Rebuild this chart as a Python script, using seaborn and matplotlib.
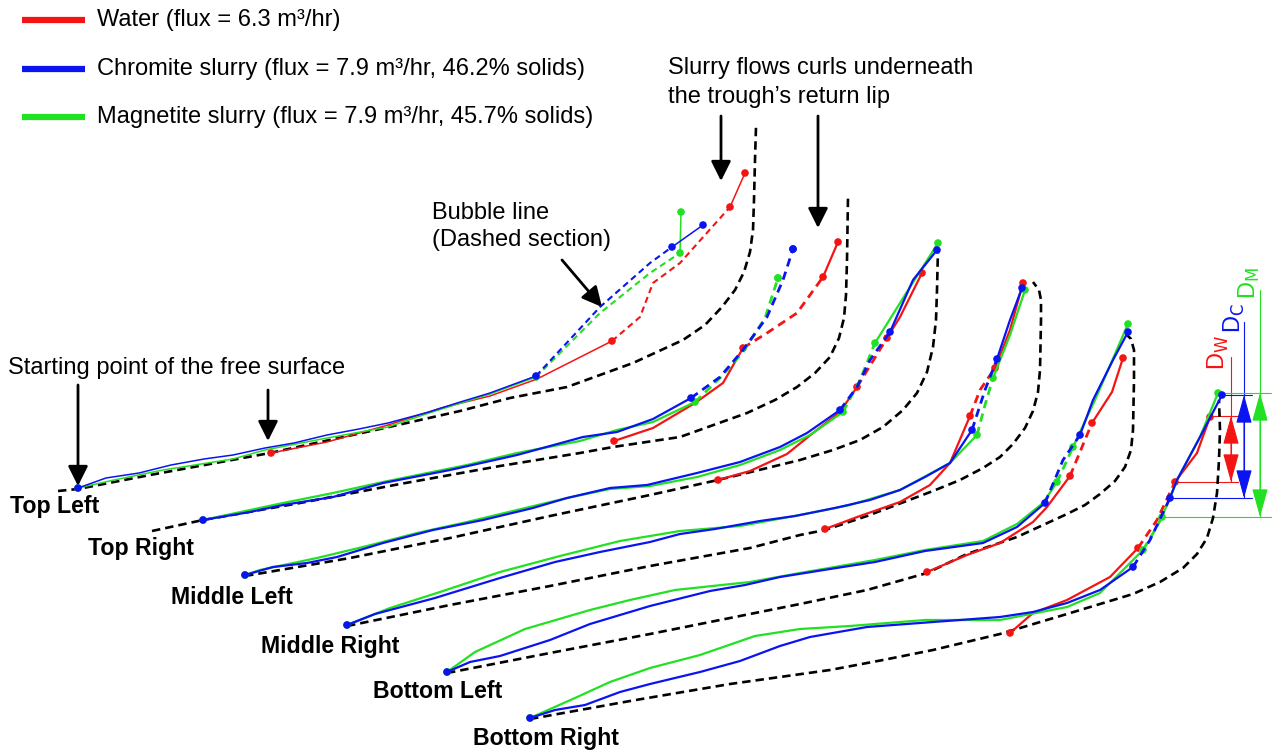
import matplotlib
matplotlib.use("Agg")
import matplotlib.pyplot as plt
import seaborn as sns

sns.set_theme(style="white")
plt.rcParams['font.family'] = ['Liberation Sans', 'DejaVu Sans']
plt.rcParams['text.color'] = 'black'

# ---------------- data (picture coordinates) ----------------
FLUIDS = ["Water", "Chromite slurry", "Magnetite slurry"]
LEGEND_LABELS = ["Water (flux = 6.3 m³/hr)",
                 "Chromite slurry (flux = 7.9 m³/hr, 46.2% solids)",
                 "Magnetite slurry (flux = 7.9 m³/hr, 45.7% solids)"]
COLORS = {"Water": "#f41414", "Chromite slurry": "#0a14f0", "Magnetite slurry": "#22e022", "Trough": "black"}

PROFILE_NAMES = ["Top Left", "Top Right", "Middle Left", "Middle Right", "Bottom Left", "Bottom Right"]

TL_TROUGH = [(58,491),(78,489),(150,475),(270,453),(380,429),(460,411),(510,398),(567,387),(633,363),(683,340),(705,325),(722,307),(735,290),(744,272),(750,252),(753,230),(754,200),(755,160),(756,127)]
TL_WATER = [(271,453),(327,442),(388,425),(441,408),(490,396),(537,379),(612,341),(640,317),(653,283),(680,263),(730,207),(745,173)]
TL_WATER_BUBBLE = (6, 10)
TL_CHROMITE = [(78,488),(106,478),(139,473),(171,465),(204,459),(233,455),(265,448),(294,443),(327,435),(359,429),(388,423),(429,412),(457,403),(490,393),(536,376),(600,307),(650,263),(672,247),(703,225)]
TL_CHROMITE_BUBBLE = (14, 17)
TL_MAGNETITE = [(78,488),(114,480),(163,470),(233,459),(265,450),(327,438),(388,427),(429,413),(490,394),(536,377),(600,313),(650,273),(680,253),(681,212)]
TL_MAGNETITE_BUBBLE = (9, 12)

TR_TROUGH = [(152,531),(203,520),(300,503),(400,484),(500,466),(580,453),(613,447),(680,437),(747,413),(775,400),(797,387),(815,373),(830,357),(839,338),(844,318),(846,295),(847,260),(848,197)]
TR_WATER = [(614,441),(653,428),(695,403),(723,383),(743,348),(767,333),(797,313),(823,277),(838,242)]
TR_WATER_BUBBLE = (4, 7)
TR_CHROMITE = [(203,520),(250,512),(283,505),(333,497),(383,483),(450,470),(517,455),(583,437),(617,432),(653,419),(691,398),(720,377),(743,350),(767,317),(783,280),(793,249)]
TR_CHROMITE_BUBBLE = (10, 15)
TR_MAGNETITE = [(203,520),(283,503),(333,493),(383,482),(467,465),(517,453),(580,441),(617,430),(653,422),(695,402),(720,378),(743,352),(765,318),(778,278)]
TR_MAGNETITE_BUBBLE = (9, 13)

ML_TROUGH = [(245,576),(350,558),(450,538),(550,516),(650,495),(718,480),(800,460),(833,450),(860,440),(883,427),(903,410),(917,393),(927,372),(933,347),(936,320),(937,290),(938,248)]
ML_WATER = [(718,480),(750,471),(787,454),(813,433),(840,412),(857,387),(887,338),(900,317),(922,273)]
ML_WATER_BUBBLE = (5, 6)
ML_CHROMITE = [(245,575),(273,567),(307,563),(337,557),(383,543),(433,530),(483,520),(533,508),(567,498),(610,488),(647,485),(697,473),(740,462),(780,447),(807,433),(840,410),(857,387),(870,360),(890,332),(913,280),(937,250)]
ML_CHROMITE_BUBBLE = (15, 18)
ML_MAGNETITE = [(245,575),(260,570),(317,558),(367,546),(417,533),(467,522),(517,510),(567,498),(610,489),(650,486),(697,477),(740,465),(780,450),(810,435),(843,412),(860,380),(875,343),(905,295),(938,243)]
ML_MAGNETITE_BUBBLE = (14, 16)

MR_TROUGH = [(347,626),(450,605),(550,586),(650,566),(750,548),(800,535),(825,530),(867,516),(933,491),(960,480),(983,468),(1000,457),(1013,444),(1025,428),(1033,411),(1038,392),(1040,370),(1041,320),(1041,300),(1039,290),(1033,282)]
MR_WATER = [(825,529),(860,516),(900,502),(930,485),(950,463),(970,416),(980,390),(995,368),(1010,330),(1023,283)]
MR_WATER_BUBBLE = (5, 7)
MR_CHROMITE = [(347,625),(375,614),(435,598),(500,578),(555,562),(600,552),(650,542),(680,534),(715,529),(760,521),(795,516),(835,508),(870,500),(900,490),(925,477),(950,463),(972,430),(985,390),(997,359),(1010,320),(1022,288)]
MR_CHROMITE_BUBBLE = (16, 18)
MR_MAGNETITE = [(347,625),(390,608),(440,592),(500,572),(560,556),(620,541),(680,531),(740,526),(800,515),(850,505),(900,490),(950,463),(977,435),(985,405),(993,378),(1010,335),(1025,290)]
MR_MAGNETITE_BUBBLE = (12, 14)

BL_TROUGH = [(447,673),(550,653),(650,634),(750,614),(800,604),(867,590),(927,573),(967,554),(1017,537),(1067,514),(1085,505),(1100,494),(1115,481),(1125,467),(1131,450),(1133,430),(1134,380),(1134,350),(1131,339),(1126,334)]
BL_WATER = [(927,572),(967,555),(1000,543),(1033,522),(1047,507),(1070,476),(1092,423),(1112,392),(1123,358)]
BL_WATER_BUBBLE = (5, 6)
BL_CHROMITE = [(447,672),(470,662),(500,656),(550,640),(590,624),(650,606),(710,591),(745,585),(780,577),(830,569),(875,562),(925,551),(983,543),(1017,527),(1045,503),(1063,460),(1080,435),(1093,400),(1113,360),(1128,332)]
BL_CHROMITE_BUBBLE = (14, 16)
BL_MAGNETITE = [(447,672),(475,652),(525,629),(590,610),(630,600),(675,590),(750,582),(800,573),(875,560),(925,550),(983,541),(1017,524),(1043,503),(1057,482),(1073,447),(1095,400),(1128,324)]
BL_MAGNETITE_BUBBLE = (13, 14)

BR_TROUGH = [(530,719),(630,701),(730,684),(830,670),(883,660),(933,650),(1000,634),(1067,614),(1133,594),(1160,582),(1183,568),(1197,554),(1207,538),(1213,518),(1217,493),(1219,460),(1220,430),(1219,400)]
BR_WATER = [(1010,633),(1033,613),(1067,600),(1110,577),(1138,548),(1157,520),(1175,482),(1197,453),(1210,417)]
BR_WATER_BUBBLE = (4, 6)
BR_CHROMITE = [(530,718),(555,710),(585,705),(620,692),(650,684),(700,672),(740,661),(780,646),(810,637),(867,627),(933,622),(1000,617),(1033,612),(1067,603),(1100,590),(1133,567),(1150,540),(1170,498),(1177,480),(1200,437),(1222,395)]
BR_CHROMITE_BUBBLE = (15, 17)
BR_MAGNETITE = [(530,718),(575,698),(610,682),(650,668),(700,655),(755,636),(800,629),(850,626),(925,620),(1000,620),(1067,607),(1100,593),(1143,550),(1155,530),(1162,517),(1177,480),(1200,437),(1218,393)]
BR_MAGNETITE_BUBBLE = (12, 14)

# depth dimensions on the Bottom Right profile
DIM_LABELS = ["D$_\\mathrm{W}$", "D$_\\mathrm{C}$", "D$_\\mathrm{M}$"]
DIM_TOP = [416, 395, 393]
DIM_BOTTOM = [482, 498, 517]

# ---------------- figure ----------------
fig = plt.figure(figsize=(12.72, 7.54), dpi=100)
ax = fig.add_axes([0, 0, 1, 1])
ax.set_xlim(0, 1272)
ax.set_ylim(754, 0)
ax.axis("off")

DASH_BLACK = (3.2, 1.9)
DASH_COL = (3.0, 2.0)
FS = 17


def line(pts, color, lw, dashed=None, z=3):
    xs = [p[0] for p in pts]
    ys = [p[1] for p in pts]
    kw = {}
    if dashed is not None:
        kw["dashes"] = dashed
    sns.lineplot(x=xs, y=ys, sort=False, estimator=None, color=color, lw=lw, ax=ax,
                 zorder=z, legend=False, solid_joinstyle="round", **kw)


def dots(pts, color, z=5):
    sns.scatterplot(x=[p[0] for p in pts], y=[p[1] for p in pts], color=color, s=30,
                    edgecolor="none", ax=ax, zorder=z, legend=False)


def fluid(pts, bubble, color, lw, z):
    a, b = bubble
    if a > 0:
        line(pts[:a + 1], color, lw, z=z)
    line(pts[a:b + 1], color, lw + 0.4, dashed=DASH_COL, z=z)
    if b < len(pts) - 1:
        line(pts[b:], color, lw, z=z)
    dots([pts[0], pts[a], pts[b], pts[-1]], color, z=z + 0.5)


profiles = [
    (TL_TROUGH, TL_WATER, TL_WATER_BUBBLE, TL_CHROMITE, TL_CHROMITE_BUBBLE, TL_MAGNETITE, TL_MAGNETITE_BUBBLE, 1.1),
    (TR_TROUGH, TR_WATER, TR_WATER_BUBBLE, TR_CHROMITE, TR_CHROMITE_BUBBLE, TR_MAGNETITE, TR_MAGNETITE_BUBBLE, 1.6),
    (ML_TROUGH, ML_WATER, ML_WATER_BUBBLE, ML_CHROMITE, ML_CHROMITE_BUBBLE, ML_MAGNETITE, ML_MAGNETITE_BUBBLE, 1.6),
    (MR_TROUGH, MR_WATER, MR_WATER_BUBBLE, MR_CHROMITE, MR_CHROMITE_BUBBLE, MR_MAGNETITE, MR_MAGNETITE_BUBBLE, 1.6),
    (BL_TROUGH, BL_WATER, BL_WATER_BUBBLE, BL_CHROMITE, BL_CHROMITE_BUBBLE, BL_MAGNETITE, BL_MAGNETITE_BUBBLE, 1.6),
    (BR_TROUGH, BR_WATER, BR_WATER_BUBBLE, BR_CHROMITE, BR_CHROMITE_BUBBLE, BR_MAGNETITE, BR_MAGNETITE_BUBBLE, 1.6),
]

for trough, w, wb, c, cb, m, mb, lw in profiles:
    line(trough, COLORS["Trough"], 1.9, dashed=DASH_BLACK, z=2)
    fluid(w, wb, COLORS["Water"], lw, 3)
    fluid(m, mb, COLORS["Magnetite slurry"], lw, 4)
    fluid(c, cb, COLORS["Chromite slurry"], lw, 5)

# profile labels
LABEL_POS = [(10, 507), (88, 548), (171, 597), (261, 646), (373, 692), (473, 738)]
for name, (lx, ly) in zip(PROFILE_NAMES, LABEL_POS):
    ax.text(lx, ly, name, fontsize=16.7, fontweight="bold", ha="left", va="center", color="black")

# legend
for i, (fl, lab) in enumerate(zip(FLUIDS, LEGEND_LABELS)):
    yy = 20 + 48.5 * i
    ax.plot([22, 85], [yy, yy], color=COLORS[fl], lw=4.5, solid_capstyle="butt")
    ax.text(97, yy, lab, fontsize=FS, ha="left", va="center")

# annotations
ARW = dict(arrowstyle="-|>,head_length=0.6,head_width=0.3", color="black", lw=2, mutation_scale=20,
           shrinkA=0, shrinkB=0)
ax.text(8, 368, "Starting point of the free surface", fontsize=FS, ha="left", va="center")
ax.annotate("", xy=(78, 486), xytext=(78, 385), arrowprops=ARW)
ax.annotate("", xy=(268, 441), xytext=(268, 390), arrowprops=ARW)
ax.text(432, 213, "Bubble line", fontsize=FS, ha="left", va="center")
ax.text(432, 240, "(Dashed section)", fontsize=FS, ha="left", va="center")
ax.annotate("", xy=(602, 307), xytext=(562, 260), arrowprops=ARW)
ax.text(668, 68, "Slurry flows curls underneath", fontsize=FS, ha="left", va="center")
ax.text(668, 97, "the trough\u2019s return lip", fontsize=FS, ha="left", va="center")
ax.annotate("", xy=(721, 181), xytext=(721, 116), arrowprops=ARW)
ax.annotate("", xy=(818, 228), xytext=(818, 116), arrowprops=ARW)

# dimensions
DIM_X = [1231, 1244, 1260]
DIM_EXT_TOP = [357, 322, 290]
DIM_LEFT_TOP = [1210, 1222, 1218]
DIM_LEFT_BOT = [1175, 1170, 1162]
DIM_RIGHT = [1238, 1252, 1271]
DIM_TEXT = [(1218, 352), (1234, 318), (1249, 283)]
for i, fl in enumerate(FLUIDS):
    col = COLORS[fl]
    ax.plot([DIM_X[i], DIM_X[i]], [DIM_EXT_TOP[i], DIM_BOTTOM[i]], color=col, lw=0.8, zorder=1)
    ax.plot([DIM_LEFT_TOP[i], DIM_RIGHT[i]], [DIM_TOP[i], DIM_TOP[i]], color=col, lw=0.8, zorder=1)
    ax.plot([DIM_LEFT_BOT[i], DIM_RIGHT[i]], [DIM_BOTTOM[i], DIM_BOTTOM[i]], color=col, lw=0.8, zorder=1)
    ax.annotate("", xy=(DIM_X[i], DIM_TOP[i]), xytext=(DIM_X[i], DIM_BOTTOM[i]),
                arrowprops=dict(arrowstyle="<|-|>,head_length=0.9,head_width=0.25", color=col, lw=0.8,
                                mutation_scale=20, shrinkA=0, shrinkB=0))
    tx, ty = DIM_TEXT[i]
    ax.text(tx, ty, DIM_LABELS[i], fontsize=17, color=col, rotation=90, ha="center", va="center")

fig.savefig("out.png", dpi=100, facecolor="white")
